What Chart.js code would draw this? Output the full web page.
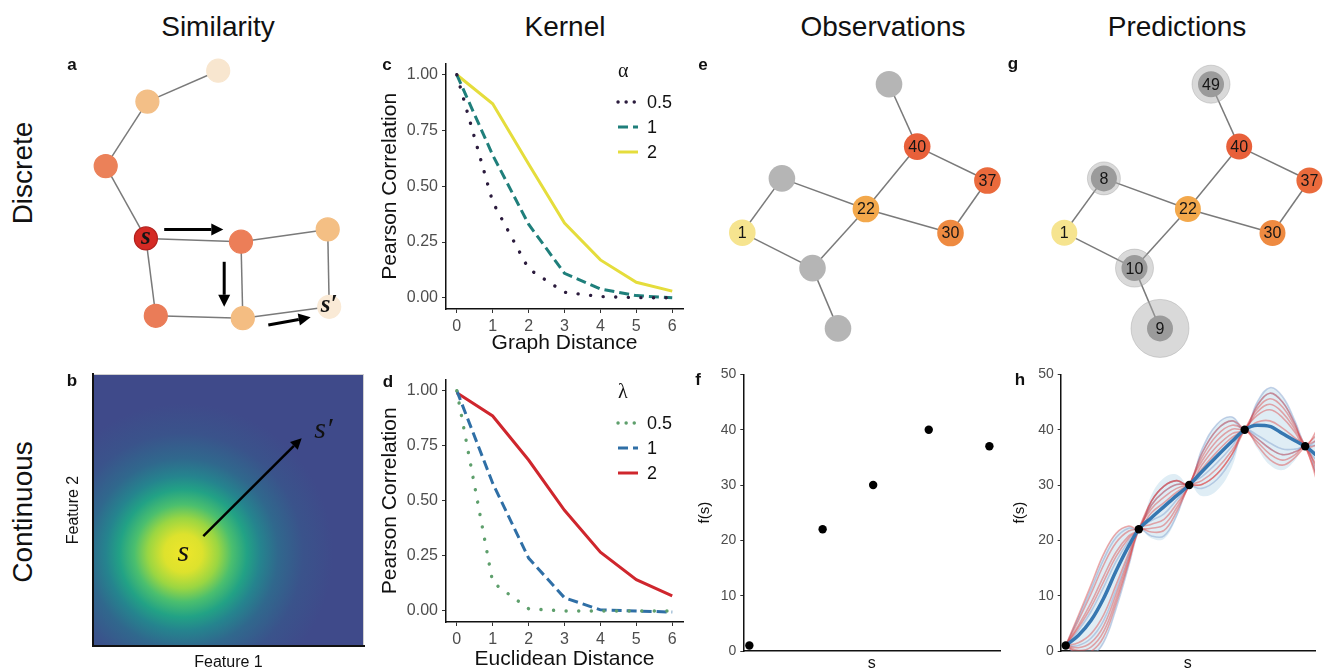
<!DOCTYPE html>
<html>
<head>
<meta charset="utf-8">
<title>Similarity / Kernel / Observations / Predictions</title>
<script src="https://cdn.jsdelivr.net/npm/chart.js@4.4.1/dist/chart.umd.min.js"></script>
<style>
  body { margin: 0; width: 1323px; height: 670px; overflow: hidden; background: #fff; position: relative;
         font-family: "Liberation Sans", Arial, Helvetica, sans-serif; color: #111; }
  canvas { position: absolute; }
  .head { position: absolute; top: 13px; font-size: 28px; line-height: 28px; transform: translateX(-50%); white-space: nowrap; }
  .row { position: absolute; font-size: 28px; line-height: 28px; white-space: nowrap; transform: translate(-50%, -50%) rotate(-90deg); }
  .tag { position: absolute; font-size: 17px; font-weight: bold; line-height: 17px; transform: translate(-50%, -50%); z-index: 2; }
</style>
</head>
<body>
<div class="head" style="left:218px">Similarity</div>
<div class="head" style="left:565px">Kernel</div>
<div class="head" style="left:883px">Observations</div>
<div class="head" style="left:1177px">Predictions</div>
<div class="row" style="left:23px;top:173px">Discrete</div>
<div class="row" style="left:23px;top:512px">Continuous</div>
<div class="tag" style="left:72px;top:64px">a</div>
<div class="tag" style="left:72px;top:380px">b</div>
<div class="tag" style="left:387px;top:64px">c</div>
<div class="tag" style="left:388px;top:381px">d</div>
<div class="tag" style="left:703px;top:64px">e</div>
<div class="tag" style="left:698px;top:379px">f</div>
<div class="tag" style="left:1013px;top:63px">g</div>
<div class="tag" style="left:1020px;top:379px">h</div>

<script>
// ---- kernel curves (c, d) ----
const distances = [0, 1, 2, 3, 4, 5, 6];
const corrTicks = [0, 0.25, 0.5, 0.75, 1];
const alphaLabels = ['0.5', '1', '2'];
const graphCorrA05 = [1, 0.43, 0.13, 0.025, 0.006, 0.001, 0];
const graphCorrA1 = [1, 0.64, 0.33, 0.11, 0.04, 0.01, 0];
const graphCorrA2 = [1, 0.87, 0.6, 0.335, 0.17, 0.07, 0.03];
const lambdaLabels = ['0.5', '1', '2'];
const euclidCorrL05 = [1, 0.13, 0.01, 0, 0, 0, 0];
const euclidCorrL1 = [1, 0.58, 0.24, 0.06, 0.005, 0, -0.005];
const euclidCorrL2 = [0.99, 0.885, 0.685, 0.457, 0.267, 0.142, 0.069];

// ---- observations (f, h) ----
const sObs = [0, 2.9, 4.9, 7.1, 9.5];
const fObs = [1, 22, 30, 40, 37];
const fTicks = [0, 10, 20, 30, 40, 50];

// ---- GP predictions (h) ----
const sGrid = [0, 0.5, 1, 1.5, 2, 2.5, 2.9, 3.4, 3.9, 4.4, 4.9, 5.4, 6.0, 6.6, 7.1, 7.6, 8.1, 8.6, 9.1, 9.5, 10];
const predMean = [1, 2.8, 5.5, 9.5, 14.5, 19, 22, 24.1, 26.1, 28.1, 30, 32.4, 35.2, 37.9, 40, 40.8, 40.6, 39.3, 38, 37, 35.2];
const predUpper = [1, 6.4, 11.9, 17.5, 21.3, 22.6, 22, 28.2, 31.3, 31.9, 30, 36.4, 41, 42.3, 40, 45, 47.6, 45.9, 41.5, 37, 40.2];
const predLower = [1, -0.8, -0.9, 1.5, 7.7, 15.4, 22, 20.4, 20.3, 24.1, 30, 28, 29, 33.3, 40, 36.6, 33.6, 32.7, 34.5, 37, 30.2];
const drawsRed = [
  [1, 5.5, 10.3, 15.5, 19.6, 21.7, 22, 22.2, 22.8, 25.9, 30, 35, 39, 40.8, 40, 38.4, 36.6, 35.5, 36, 37, 38.2],
  [1, 0.6, 1.5, 4.5, 10.3, 16.8, 22, 25.7, 27.8, 29.4, 30, 30.1, 32, 35.6, 40, 43.8, 45.6, 44.1, 40.5, 37, 31.2],
  [1, 4.2, 7.9, 12.5, 17.1, 20.4, 22, 27.1, 29.8, 30.8, 30, 33.6, 37, 39.3, 40, 44.4, 46.6, 45, 41, 37, 37.2],
  [1, -0.4, -0.1, 2.5, 8.6, 15.9, 22, 22.9, 23.8, 26.6, 30, 35.7, 40, 41.6, 40, 37.8, 35.6, 34.5, 35.5, 37, 32.2],
  [1, 6.4, 11.9, 17.5, 21.3, 22.6, 22, 25, 26.8, 28.7, 30, 30.8, 33, 36.3, 40, 42.6, 43.6, 42.2, 39.5, 37, 40.2],
  [1, 1.5, 3.1, 6.5, 12, 17.7, 22, 21.5, 21.8, 25.2, 30, 34.3, 38, 40.1, 40, 41.4, 41.6, 40.3, 38.5, 37, 30.2],
  [1, 4.6, 8.7, 13.5, 17.9, 20.8, 22, 26.4, 28.8, 30.1, 30, 30.1, 32, 35.6, 40, 37.2, 34.6, 33.6, 35, 37, 39.2],
  [1, 0.1, 0.7, 3.5, 9.4, 16.3, 22, 27.1, 29.8, 30.8, 30, 32.9, 36, 38.6, 40, 43.2, 44.6, 43.1, 40, 37, 33.2]
];
const drawsBlue = [
  [1, 6, 11.1, 16.5, 20.5, 22.2, 22, 27.1, 29.8, 30.8, 30, 36.4, 41, 42.3, 40, 44.4, 46.6, 45, 41, 37, 38.2],
  [1, 1, 2.3, 5.5, 11.1, 17.2, 22, 20.8, 20.8, 24.5, 30, 31.5, 34, 37, 40, 38.4, 36.6, 35.5, 36, 37, 31.2],
  [1, 3.7, 7.1, 11.5, 16.2, 19.9, 22, 23.6, 24.8, 27.3, 30, 35.7, 40, 41.6, 40, 45, 47.6, 46, 41.5, 37, 34.2],
  [1, -0.8, -0.9, 1.5, 7.7, 15.4, 22, 26.4, 28.8, 30.1, 30, 29.4, 31, 34.8, 40, 39, 37.6, 36.5, 36.5, 37, 37.2]
];

// ---- graph (a) ----
const aX = [4.94, 2.58, 1.19, 2.53, 5.70, 8.59, 2.86, 5.76, 8.64];
const aY = [0.69, 1.72, 3.87, 6.28, 6.39, 5.98, 8.86, 8.94, 8.56];
const aEdges = [[0, 1], [1, 2], [2, 3], [3, 4], [4, 5], [3, 6], [4, 7], [6, 7], [7, 8], [5, 8]];
const aLabels = ['', '', '', 's', '', '', '', '', 's\u2032'];
const aArrows = [[3.14, 5.98, 5.11, 5.98], [5.14, 7.06, 5.14, 8.56], [6.61, 9.17, 8.02, 8.91]];

// ---- graph (e, g) ----
const netX = [6.30, 7.24, 9.58, 2.73, 5.53, 8.35, 1.41, 3.75, 4.60];
const netY = [1.14, 3.22, 4.35, 4.28, 5.30, 6.10, 6.09, 7.27, 9.28];
const netEdges = [[0, 1], [1, 2], [1, 4], [3, 4], [3, 6], [4, 5], [2, 5], [6, 7], [7, 4], [7, 8]];
const eValues = [null, 40, 37, null, 22, 30, 1, null, null];
const gValues = [49, 40, 37, 8, 22, 30, 1, 10, 9];
const gUncert = [7, 0, 0, 4.5, 0, 0, 0, 7, 17];

// ---- kernel field (b) ----
const bCenter = [0.333, 0.341];
const bStops = [0, 0.07, 0.13, 0.18, 0.235, 0.285, 0.35, 0.443, 0.553];
const bColors = ['#efe62a', '#dde22d', '#9ad642', '#4bbf6e', '#22a285', '#25848e', '#30688d', '#3a538b', '#3f4a8a'];
const bArrow = [[0.407, 0.404, 0.770, 0.764]];

const valueColor = { 1: '#f6e48f', 22: '#f3a84b', 30: '#ee8a41', 37: '#ea6a3c', 40: '#e8603a' };
const aColors = ['#f8e6cf', '#f3bf87', '#eb8159', '#d42a24', '#ec7e58', '#f4bf84', '#ea7c58', '#f4bd82', '#faead6'];

Chart.defaults.font.family = '"Liberation Sans", Arial, Helvetica, sans-serif';
Chart.defaults.color = '#4d4d4d';
Chart.defaults.animation = false;
Chart.defaults.responsive = false;
Chart.defaults.plugins.legend.display = false;
Chart.defaults.plugins.tooltip.enabled = false;

const SERIF = '"Liberation Serif", "DejaVu Serif", serif';

function addCanvas(left, top, w, h) {
  const c = document.createElement('canvas');
  c.width = w; c.height = h;
  c.style.left = left + 'px'; c.style.top = top + 'px';
  c.style.width = w + 'px'; c.style.height = h + 'px';
  document.body.appendChild(c);
  return c.getContext('2d');
}

// legend drawn inside the plot, ggplot style
const insetLegend = {
  id: 'insetLegend',
  afterDraw(chart, args, opts) {
    const ctx = chart.ctx;
    ctx.save();
    ctx.fillStyle = '#111';
    ctx.textBaseline = 'middle';
    ctx.textAlign = 'left';
    ctx.font = opts.titleFont;
    ctx.fillText(opts.title, opts.x, opts.titleY);
    chart.data.datasets.forEach((ds, i) => {
      const y = opts.y0 + i * opts.gap;
      ctx.beginPath();
      ctx.strokeStyle = ds.borderColor;
      ctx.lineWidth = ds.borderWidth;
      ctx.lineCap = ds.borderCapStyle || 'butt';
      ctx.setLineDash(ds.legendDash || ds.borderDash || []);
      ctx.moveTo(opts.x, y);
      ctx.lineTo(opts.x + 20, y);
      ctx.stroke();
      ctx.setLineDash([]);
      ctx.font = '18px ' + Chart.defaults.font.family;
      ctx.fillText(ds.label, opts.x + 29, y + 1);
    });
    ctx.restore();
  }
};

// text labels on graph nodes
const nodeLabels = {
  id: 'nodeLabels',
  afterDatasetsDraw(chart, args, opts) {
    const meta = chart.getDatasetMeta(0);
    const ctx = chart.ctx;
    ctx.save();
    ctx.font = opts.font;
    ctx.fillStyle = '#151515';
    ctx.textAlign = 'center';
    ctx.textBaseline = 'middle';
    meta.data.forEach((pt, i) => {
      const t = opts.labels[i];
      if (t !== null && t !== undefined && t !== '') ctx.fillText(String(t), pt.x + (opts.dx || 0), pt.y + (opts.dy || 0));
    });
    ctx.restore();
  }
};

// arrows and free text in data units
const annot = {
  id: 'annot',
  afterDatasetsDraw(chart, args, opts) {
    const { ctx, scales: { x, y } } = chart;
    ctx.save();
    (opts.arrows || []).forEach(a => {
      const x1 = x.getPixelForValue(a[0]), y1 = y.getPixelForValue(a[1]);
      const x2 = x.getPixelForValue(a[2]), y2 = y.getPixelForValue(a[3]);
      const ang = Math.atan2(y2 - y1, x2 - x1);
      const hl = opts.head, hw = opts.headW;
      const bx = x2 - hl * Math.cos(ang), by = y2 - hl * Math.sin(ang);
      ctx.strokeStyle = '#000';
      ctx.lineWidth = opts.width;
      ctx.beginPath(); ctx.moveTo(x1, y1); ctx.lineTo(bx, by); ctx.stroke();
      ctx.fillStyle = '#000';
      ctx.beginPath();
      ctx.moveTo(x2, y2);
      ctx.lineTo(bx + hw * Math.sin(ang), by - hw * Math.cos(ang));
      ctx.lineTo(bx - hw * Math.sin(ang), by + hw * Math.cos(ang));
      ctx.closePath(); ctx.fill();
    });
    (opts.texts || []).forEach(t => {
      ctx.font = t.font;
      ctx.fillStyle = '#111';
      ctx.textAlign = 'center';
      ctx.textBaseline = 'middle';
      ctx.fillText(t.text, x.getPixelForValue(t.x), y.getPixelForValue(t.y));
    });
    ctx.restore();
  }
};

// radial similarity field behind panel b
const kernelField = {
  id: 'kernelField',
  beforeDraw(chart, args, opts) {
    const { ctx, chartArea: ca, scales: { x, y } } = chart;
    const cx = x.getPixelForValue(opts.center[0]), cy = y.getPixelForValue(opts.center[1]);
    const unit = x.getPixelForValue(1) - x.getPixelForValue(0);
    const last = opts.stops[opts.stops.length - 1];
    const grad = ctx.createRadialGradient(cx, cy, 0, cx, cy, last * unit);
    opts.stops.forEach((s, i) => grad.addColorStop(s / last, opts.colors[i]));
    ctx.save();
    ctx.fillStyle = grad;
    ctx.fillRect(ca.left, ca.top, ca.width, ca.height);
    ctx.strokeStyle = '#d0d0d0';
    ctx.lineWidth = 1;
    ctx.strokeRect(ca.left + 0.5, ca.top + 0.5, ca.width - 1, ca.height - 1);
    ctx.restore();
  }
};

const fixTicks = arr => s => { s.ticks = arr.map(v => ({ value: v })); };
const fixSize = n => s => { if (s.isHorizontal()) s.height = n; else s.width = n; };

function kernelChart(ctx, series, labels, colors, dashes, xTitle, legend, padTop, xAxisH) {
  return new Chart(ctx, {
    type: 'line',
    data: {
      datasets: series.map((vals, i) => ({
        label: labels[i],
        data: distances.map((d, j) => ({ x: d, y: vals[j] })),
        borderColor: colors[i],
        borderWidth: i === 0 ? 3.4 : 3,
        borderDash: dashes[i],
        legendDash: i === 0 ? [0.1, 8] : dashes[i],
        borderCapStyle: i === 0 ? 'round' : 'butt',
        pointRadius: 0,
        tension: 0,
        fill: false
      }))
    },
    options: {
      layout: { padding: { top: padTop, right: 7 }, autoPadding: false },
      scales: {
        x: {
          type: 'linear', min: -0.3, max: 6.3,
          afterBuildTicks: fixTicks(distances), afterFit: fixSize(xAxisH),
          ticks: { font: { size: 16 }, color: '#4d4d4d', padding: 4 },
          grid: { drawOnChartArea: false, tickLength: 4, color: '#333' },
          border: { color: '#111', width: 1.5 },
          title: { display: true, text: xTitle, font: { size: 21 }, color: '#111', padding: { top: 0, bottom: 0 } }
        },
        y: {
          type: 'linear', min: -0.05, max: 1.05,
          afterBuildTicks: fixTicks(corrTicks), afterFit: fixSize(71),
          ticks: { font: { size: 16 }, color: '#4d4d4d', padding: 4, callback: v => v.toFixed(2) },
          grid: { drawOnChartArea: false, tickLength: 4, color: '#333' },
          border: { color: '#111', width: 1.5 },
          title: { display: true, text: 'Pearson Correlation', font: { size: 21 }, color: '#111', padding: { top: 3 } }
        }
      },
      plugins: { insetLegend: legend }
    },
    plugins: [insetLegend]
  });
}

function obsScales(xMin, xMax, yWidth, titlePad) {
  return {
    x: {
      type: 'linear', min: xMin, max: xMax,
      afterFit: fixSize(25),
      ticks: { display: false },
      grid: { display: false },
      border: { color: '#111', width: 1.5 },
      title: { display: true, text: 's', font: { size: 16 }, color: '#111', padding: { top: 0, bottom: 3 } }
    },
    y: {
      type: 'linear', min: 0, max: 50,
      afterBuildTicks: fixTicks(fTicks), afterFit: fixSize(yWidth),
      ticks: { font: { size: 14 }, color: '#4d4d4d', padding: 4 },
      grid: { drawOnChartArea: false, tickLength: 3, color: '#333' },
      border: { color: '#111', width: 1.5 },
      title: { display: true, text: 'f(s)', font: { size: 15 }, color: '#111', padding: { top: titlePad } }
    }
  };
}

function netScales(xMax, yMax) {
  return {
    x: { type: 'linear', min: 0, max: xMax, display: false },
    y: { type: 'linear', min: 0, max: yMax, reverse: true, display: false }
  };
}

function edgeSets(xs, ys, edges) {
  return edges.map(([i, j]) => ({
    data: [{ x: xs[i], y: ys[i] }, { x: xs[j], y: ys[j] }],
    showLine: true, borderColor: '#7a7a7a', borderWidth: 1.5, pointRadius: 0, order: 3
  }));
}

const noPad = { padding: 0, autoPadding: false };

// ---------- a: discrete similarity ----------
new Chart(addCanvas(70, 50, 300, 300), {
  type: 'scatter',
  data: {
    datasets: [{
      data: aX.map((x, i) => ({ x, y: aY[i] })),
      pointRadius: 11.5,
      backgroundColor: aColors,
      borderColor: aColors.map((c, i) => i === 3 ? '#b3201c' : c),
      borderWidth: 1.2,
      order: 0
    }, ...edgeSets(aX, aY, aEdges)]
  },
  options: {
    layout: noPad,
    scales: netScales(10, 10),
    plugins: {
      nodeLabels: { labels: aLabels, font: 'italic bold 25px ' + SERIF, dy: -1 },
      annot: { arrows: aArrows, width: 3, head: 12, headW: 6 }
    }
  },
  plugins: [nodeLabels, annot]
});

// ---------- b: continuous similarity ----------
new Chart(addCanvas(60, 366, 310, 309), {
  type: 'scatter',
  data: { datasets: [] },
  options: {
    layout: { padding: { top: 8, right: 6 }, autoPadding: false },
    scales: {
      x: {
        type: 'linear', min: 0, max: 1, afterFit: fixSize(29),
        ticks: { display: false }, grid: { display: false },
        border: { color: '#111', width: 2 },
        title: { display: true, text: 'Feature 1', font: { size: 16 }, color: '#111', padding: { top: 0, bottom: 3 } }
      },
      y: {
        type: 'linear', min: 0, max: 1, afterFit: fixSize(33),
        ticks: { display: false }, grid: { display: false },
        border: { color: '#111', width: 2 },
        title: { display: true, text: 'Feature 2', font: { size: 16 }, color: '#111', padding: { top: 4 } }
      }
    },
    plugins: {
      kernelField: { center: bCenter, stops: bStops, colors: bColors },
      annot: {
        arrows: bArrow, width: 2.5, head: 11, headW: 5.5,
        texts: [
          { x: bCenter[0], y: bCenter[1], text: 's', font: 'italic 30px ' + SERIF },
          { x: 0.85, y: 0.794, text: 's\u2032', font: 'italic 30px ' + SERIF }
        ]
      }
    }
  },
  plugins: [kernelField, annot]
});

// ---------- c: graph kernel ----------
kernelChart(addCanvas(375, 50, 315, 306),
  [graphCorrA05, graphCorrA1, graphCorrA2], alphaLabels,
  ['#2b1b3d', '#1f7f7b', '#e5dd3c'], [[0.1, 12.5], [10, 5], []],
  'Graph Distance',
  { title: '\u03b1', titleFont: '20px ' + SERIF, x: 243, titleY: 22, y0: 52, gap: 25 }, 5, 47);

// ---------- d: RBF kernel ----------
kernelChart(addCanvas(375, 366, 315, 306),
  [euclidCorrL05, euclidCorrL1, euclidCorrL2], lambdaLabels,
  ['#5e9f6c', '#2f6fa6', '#cf262d'], [[0.1, 12.5], [10, 5], []],
  'Euclidean Distance',
  { title: '\u03bb', titleFont: '20px ' + SERIF, x: 243, titleY: 27, y0: 57, gap: 25 }, 6, 50);

// ---------- e: observations on graph ----------
new Chart(addCanvas(700, 50, 315, 300), {
  type: 'scatter',
  data: {
    datasets: [{
      data: netX.map((x, i) => ({ x, y: netY[i] })),
      pointRadius: 13.3,
      backgroundColor: eValues.map(v => v === null ? '#b5b5b5' : valueColor[v]),
      borderWidth: 0,
      order: 0
    }, ...edgeSets(netX, netY, netEdges)]
  },
  options: {
    layout: noPad,
    scales: netScales(10.5, 10),
    plugins: { nodeLabels: { labels: eValues, font: '16px ' + Chart.defaults.font.family, dy: 1 } }
  },
  plugins: [nodeLabels]
});

// ---------- g: predictions on graph ----------
new Chart(addCanvas(1022, 50, 301, 320), {
  type: 'scatter',
  data: {
    datasets: [{
      data: netX.map((x, i) => ({ x, y: netY[i] })),
      pointRadius: 13,
      backgroundColor: gValues.map((v, i) => gUncert[i] > 0 ? '#9b9b9b' : valueColor[v]),
      borderWidth: 0,
      order: 0
    }, {
      data: netX.map((x, i) => ({ x, y: netY[i] })),
      pointRadius: gUncert.map(u => u > 0 ? 12 + u : 0),
      backgroundColor: 'rgba(170,170,170,0.45)',
      borderColor: 'rgba(150,150,150,0.35)',
      borderWidth: 1,
      order: 1
    }, ...edgeSets(netX, netY, netEdges)]
  },
  options: {
    layout: noPad,
    scales: netScales(301 / 30, 320 / 30),
    plugins: { nodeLabels: { labels: gValues, font: '16px ' + Chart.defaults.font.family, dy: 1 } }
  },
  plugins: [nodeLabels]
});

// ---------- f: observed function values ----------
new Chart(addCanvas(690, 362, 315, 314), {
  type: 'scatter',
  data: {
    datasets: [{
      data: sObs.map((s, i) => ({ x: s, y: fObs[i] })),
      pointRadius: 4.2, backgroundColor: '#000', borderWidth: 0
    }]
  },
  options: {
    layout: { padding: { top: 10, right: 5 }, autoPadding: false },
    scales: obsScales(-0.24, 9.92, 53.3, 6)
  }
});

// ---------- h: GP posterior ----------
const gridPts = vals => sGrid.map((s, i) => ({ x: s, y: vals[i] }));
new Chart(addCanvas(1008, 362, 315, 314), {
  type: 'line',
  data: {
    datasets: [
      { data: sObs.map((s, i) => ({ x: s, y: fObs[i] })), showLine: false, pointRadius: 4.2, backgroundColor: '#000', borderWidth: 0, order: 0 },
      { data: gridPts(predMean), borderColor: '#3677b1', borderWidth: 3.5, pointRadius: 0, cubicInterpolationMode: 'monotone', order: 1 },
      ...drawsRed.map(d => ({ data: gridPts(d), borderColor: 'rgba(222,58,58,0.42)', borderWidth: 1.6, pointRadius: 0, tension: 0.4, order: 2 })),
      ...drawsBlue.map(d => ({ data: gridPts(d), borderColor: 'rgba(120,150,200,0.42)', borderWidth: 1.6, pointRadius: 0, tension: 0.4, order: 2 })),
      { data: gridPts(predUpper), borderColor: 'rgba(0,0,0,0)', borderWidth: 0, pointRadius: 0, tension: 0.4, fill: '+1', backgroundColor: 'rgba(165,205,228,0.36)', order: 3 },
      { data: gridPts(predLower), borderColor: 'rgba(0,0,0,0)', borderWidth: 0, pointRadius: 0, tension: 0.4, fill: false, order: 3 }
    ]
  },
  options: {
    layout: { padding: { top: 10, right: 8 }, autoPadding: false },
    scales: obsScales(-0.2, 9.89, 52.7, 3)
  }
});
</script>
</body>
</html>
